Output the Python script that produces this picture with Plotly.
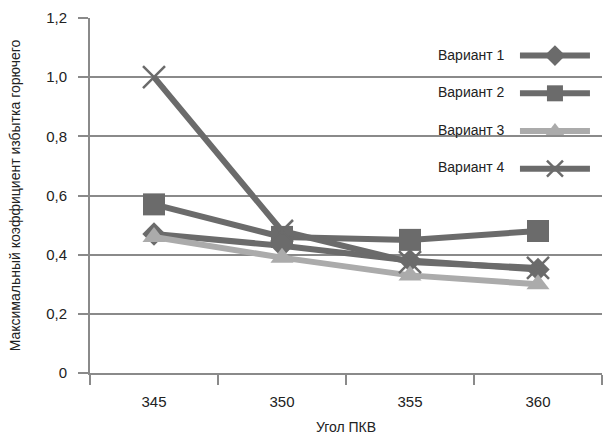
import plotly.graph_objects as go

categories = ["345", "350", "355", "360"]
v1 = [0.47, 0.43, 0.38, 0.35]
v2 = [0.57, 0.46, 0.45, 0.48]
v3 = [0.46, 0.39, 0.33, 0.30]
v4 = [1.00, 0.48, 0.375, 0.355]
names = ["Вариант 1", "Вариант 2", "Вариант 3", "Вариант 4"]
ytickvals = [0, 0.2, 0.4, 0.6, 0.8, 1.0, 1.2]
yticktext = ["0", "0,2", "0,4", "0,6", "0,8", "1,0", "1,2"]

FONT = "Liberation Sans Narrow, Liberation Sans, Arial, sans-serif"
dark = "#6b6b6b"
light = "#ababab"
axis_col = "#8a8a8a"

styles = [
    dict(color=dark, symbol="diamond", size=18, lw=6),
    dict(color=dark, symbol="square", size=22, lw=6),
    dict(color=light, symbol="triangle-up", size=20, lw=6),
    dict(color=dark, symbol="x-thin-open", size=22, lw=6),
]

fig = go.Figure()
for i, (name, vals, st) in enumerate(zip(names, [v1, v2, v3, v4], styles)):
    marker = dict(symbol=st["symbol"], size=st["size"], color=st["color"])
    if st["symbol"] == "x-thin-open":
        marker["line"] = dict(color=st["color"], width=2.5)
    fig.add_trace(go.Scatter(
        x=categories, y=vals, name="", legendgroup="g%d" % i,
        mode="lines+markers",
        line=dict(color=st["color"], width=st["lw"]),
        marker=marker, hovertext=name,
    ))

# legend labels (text placed to the left of the legend symbols)
legend_rows_y = [0.896, 0.792, 0.684, 0.580]
for name, yy in zip(names, legend_rows_y):
    fig.add_annotation(xref="paper", yref="paper", x=0.814, y=yy,
                       xanchor="right", yanchor="middle", showarrow=False,
                       text=name, font=dict(size=14, family=FONT, color="#222222"))

fig.update_layout(
    width=615, height=435,
    margin=dict(l=90, r=13, t=18, b=62),
    plot_bgcolor="white", paper_bgcolor="white",
    font=dict(family=FONT, size=14, color="#222222"),
    showlegend=True,
    legend=dict(x=0.83, y=0.938, xanchor="left", yanchor="top",
                bgcolor="rgba(255,255,255,0)", font=dict(size=14, family=FONT),
                tracegroupgap=16.5, itemwidth=70),
    xaxis=dict(
        type="category", range=[-0.5, 3.5], tickson="boundaries",
        ticks="outside", ticklen=10, tickwidth=2, tickcolor=axis_col,
        showline=True, linecolor=axis_col, linewidth=2,
        showgrid=False, zeroline=False, automargin=False,
        title=dict(text="Угол ПКВ", font=dict(size=14, family=FONT), standoff=20),
        tickfont=dict(size=15, family=FONT),
        ticklabelstandoff=14,
    ),
    yaxis=dict(
        range=[0, 1.2], tickvals=ytickvals, ticktext=yticktext,
        ticks="outside", ticklen=10, tickwidth=2, tickcolor=axis_col,
        showline=True, linecolor=axis_col, linewidth=2,
        showgrid=True, gridcolor=axis_col, gridwidth=2,
        zeroline=False, automargin=False,
        title=dict(text="Максимальный коэффициент избытка горючего", font=dict(size=14, family=FONT), standoff=22),
        tickfont=dict(size=15, family=FONT),
        ticklabelstandoff=8,
    ),
)

fig.write_html("out.html")
